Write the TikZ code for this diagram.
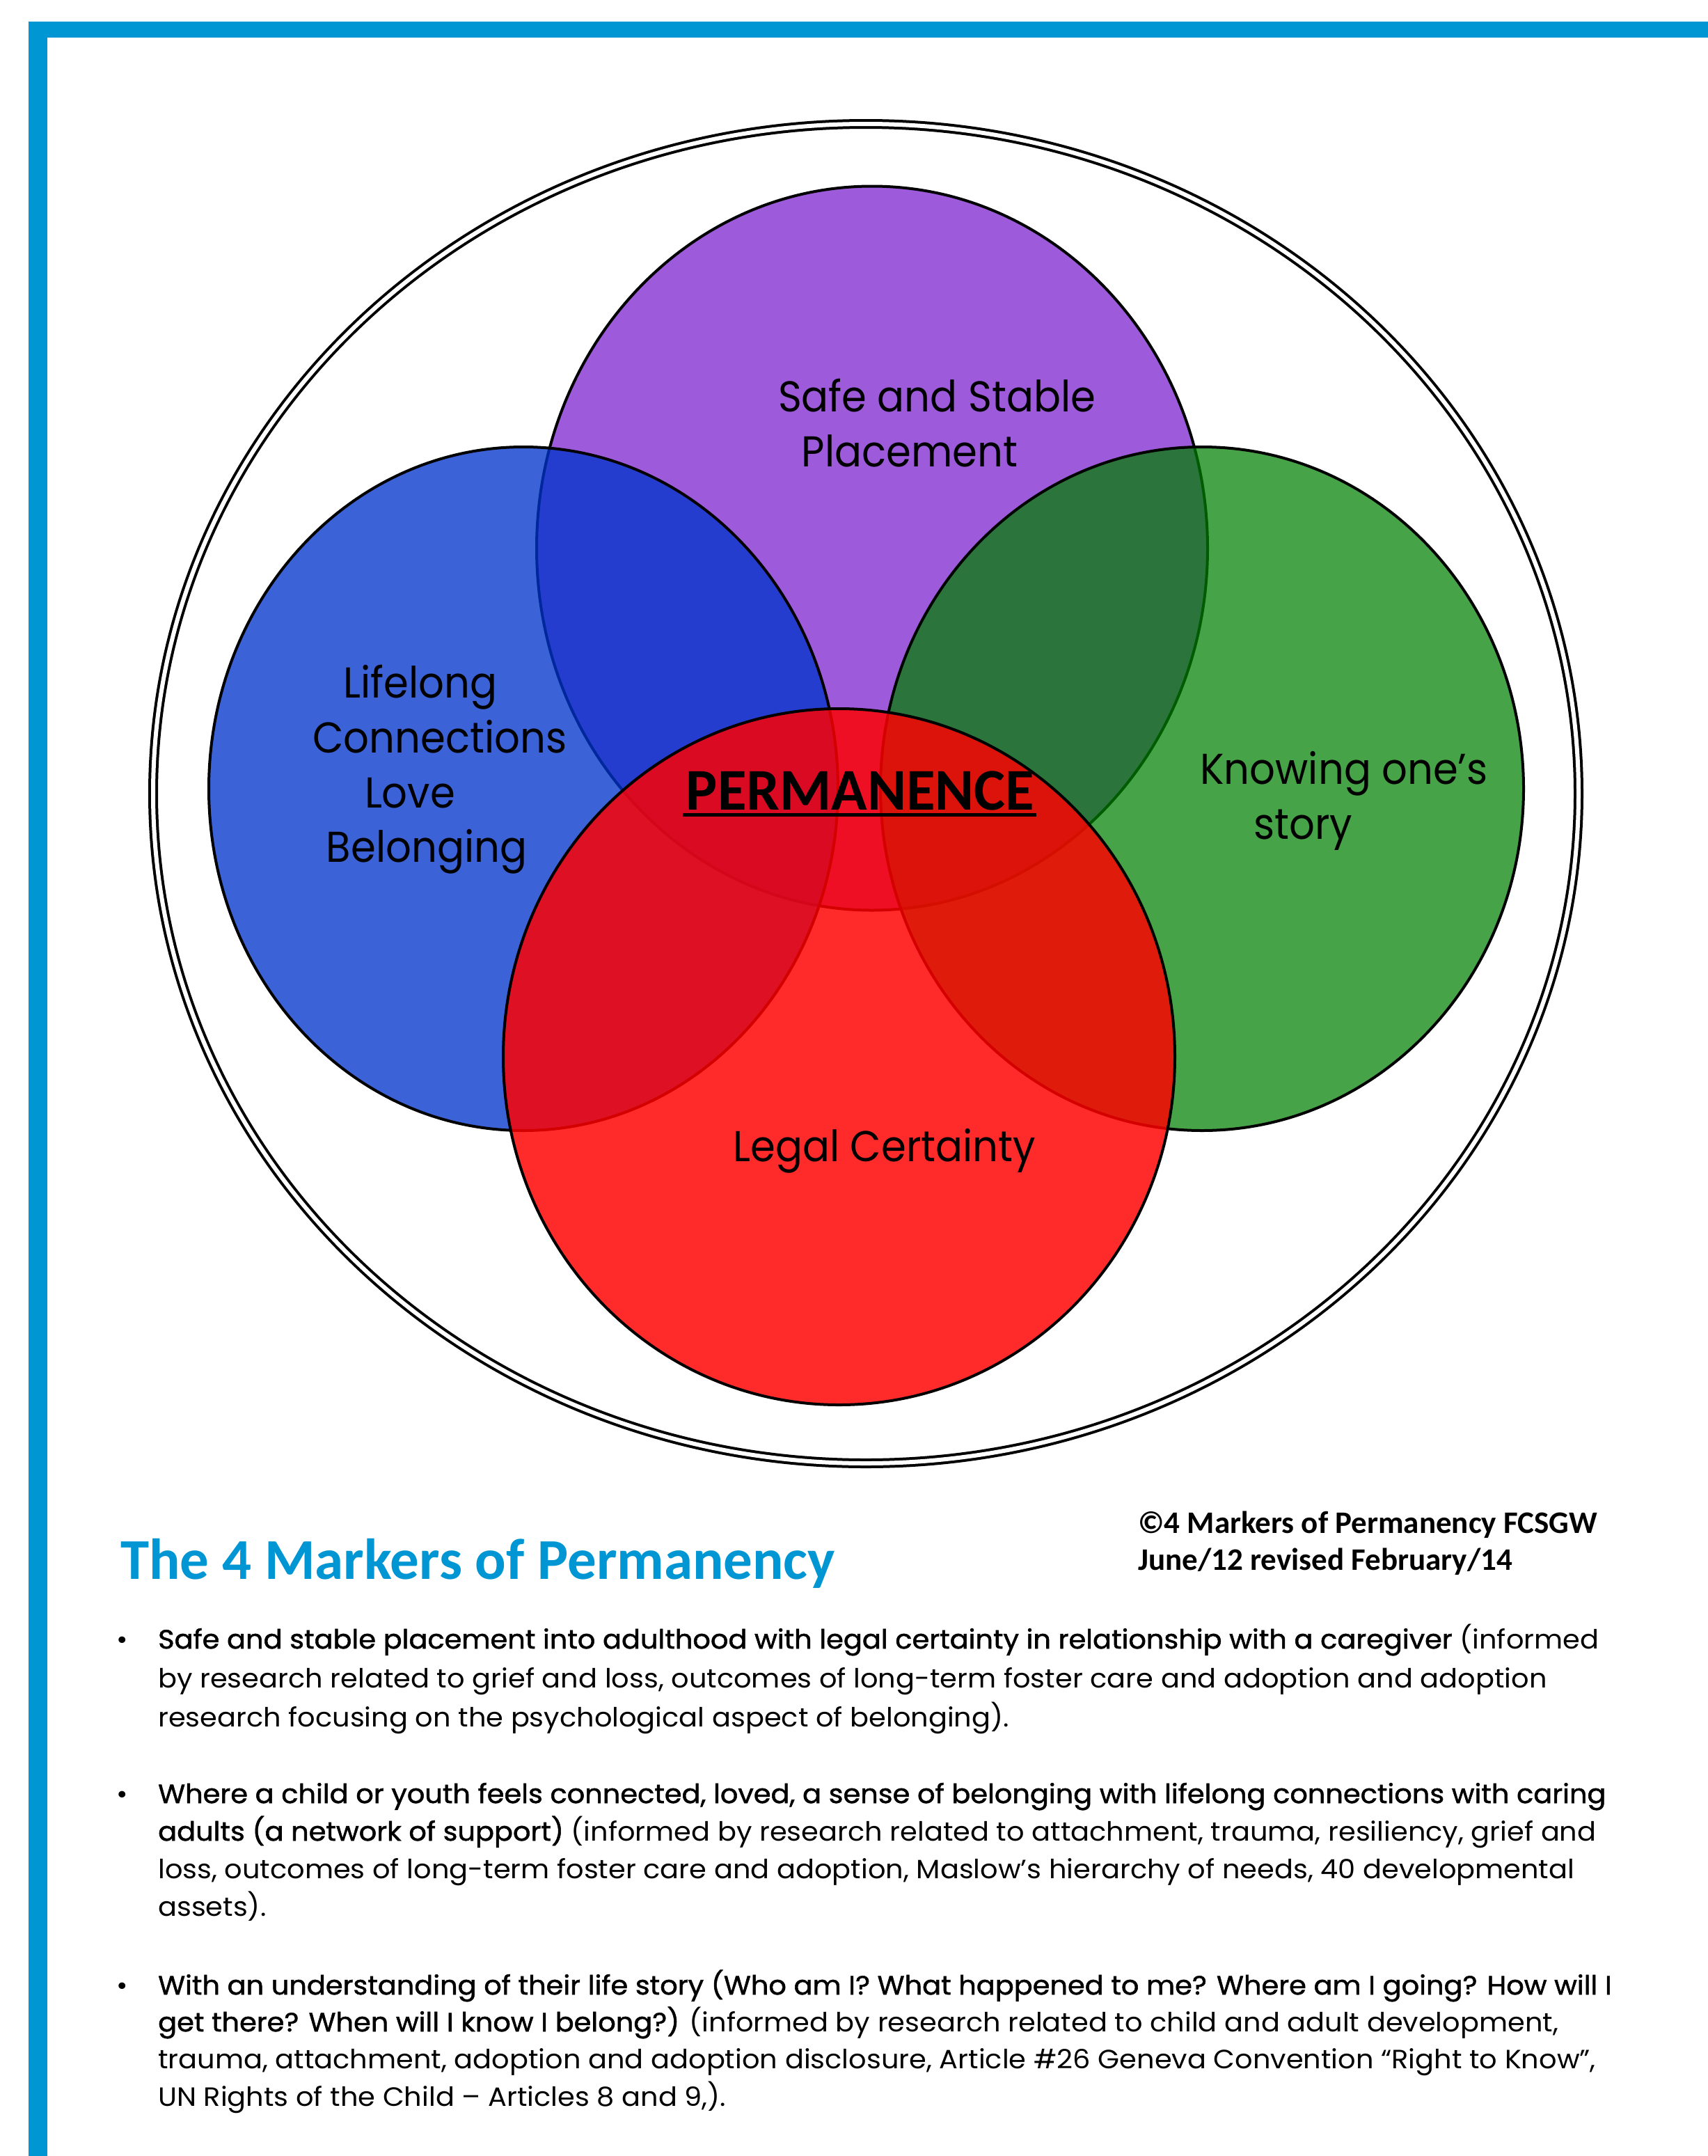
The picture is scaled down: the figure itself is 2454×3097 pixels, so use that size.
\documentclass[tikz,border=0pt]{standalone}
\usepackage{fontspec}
\setmainfont{Poppins}
\newfontfamily\calib{Carlito}
\newfontfamily\bodyf{Poppins}[FakeStretch=1.05]
\newfontfamily\semib{Poppins}[FakeStretch=1.05,FakeBold=1.4]
\newfontfamily\lblf{Poppins}[FakeStretch=0.93]
\definecolor{frameblue}{RGB}{0,149,211}
\definecolor{cpurple}{RGB}{157,91,219}
\definecolor{cblue}{RGB}{0,52,204}
\definecolor{cgreen}{RGB}{0,128,0}
\definecolor{cred}{RGB}{255,0,0}
\begin{document}
\begin{tikzpicture}[x=1pt,y=-1pt,
  venn/.style={draw=black, line width=4pt},
  lbl/.style={font=\lblf\fontsize{62}{74}\selectfont, inner sep=0pt, anchor=base},
  body/.style={font=\bodyf\fontsize{38}{44}\selectfont, inner sep=0pt, anchor=base west},
  dot/.style={font=\bodyf\fontsize{38}{44}\selectfont, inner sep=0pt, anchor=base}
  ]
\useasboundingbox (0,0) rectangle (2454,3097);
\fill[white] (0,0) rectangle (2454,3097);
% frame
\fill[frameblue] (41,31) rectangle (2454,54);
\fill[frameblue] (41,31) rectangle (68,3097);
% outer double ellipse
\draw[line width=4pt, double=white, double distance=6pt] (1244,1140) ellipse [x radius=1024, y radius=962];
% venn circles
\path[venn, fill=cpurple] (1253,787.5) ellipse [x radius=482, y radius=520];
\path[venn, fill=cblue, fill opacity=0.77] (752,1133) ellipse [x radius=452, y radius=491];
\path[venn, fill=cgreen, fill opacity=0.72] (1727,1133) ellipse [x radius=462, y radius=491];
\path[venn, fill=cred, fill opacity=0.83] (1205.5,1518) ellipse [x radius=482.5, y radius=500];
% labels
\node[lbl] (safe1) at (1346,591) {Safe and Stable};
\node[lbl] (safe2) at (1307,670) {Placement};
\node[lbl] (life1) at (604,1002) {Lifelong};
\node[lbl] (life2) at (632,1081) {Connections};
\node[lbl] (life3) at (589,1160) {Love};
\node[lbl] (life4) at (613,1238) {Belonging};
\node[lbl] (know1) at (1931,1126) {Knowing one’s};
\node[lbl] (know2) at (1872,1205) {story};
\node[lbl] (legal) at (1271,1668) {Legal Certainty};
\node[font=\calib\bfseries\fontsize{85}{100}\selectfont, inner sep=0pt, anchor=base] (perm) at (1236,1163) {PERMANENCE};
\draw[line width=5pt] ([xshift=-5pt,yshift=-7pt]perm.base west) -- ([xshift=3pt,yshift=-7pt]perm.base east);
% title and copyright
\node[font=\calib\bfseries\fontsize{83}{100}\selectfont, text=frameblue, anchor=base west, inner sep=0pt] (title) at (173,2268) {The 4 Markers of Permanency};
\node[font=\calib\bfseries\fontsize{45}{53}\selectfont, anchor=base west, inner sep=0pt] (copy1) at (1635,2202) {©4 Markers of Permanency FCSGW};
\node[font=\calib\bfseries\fontsize{45}{53}\selectfont, anchor=base west, inner sep=0pt] (copy2) at (1635,2255) {June/12 revised February/14};
% bullet 1
\node[dot] (d1) at (176,2368) {•};
\node[body] (b1l1) at (227,2368) {{\semib Safe and stable placement into adulthood with legal certainty in relationship with a caregiver} (informed};
\node[body] (b1l2) at (227,2424) {by research related to grief and loss, outcomes of long-term foster care and adoption and adoption};
\node[body] (b1l3) at (227,2480) {research focusing on the psychological aspect of belonging).};
% bullet 2
\node[dot] (d2) at (176,2590) {•};
\node[body] (b2l1) at (227,2590) {{\semib Where a child or youth feels connected, loved, a sense of belonging with lifelong connections with caring}};
\node[body] (b2l2) at (227,2644) {{\semib adults (a network of support)} (informed by research related to attachment, trauma, resiliency, grief and};
\node[body] (b2l3) at (227,2698) {loss, outcomes of long-term foster care and adoption, Maslow’s hierarchy of needs, 40 developmental};
\node[body] (b2l4) at (227,2752) {assets).};
% bullet 3
\node[dot] (d3) at (176,2865) {•};
\node[body] (b3l1) at (227,2865) {{\semib With an understanding of their life story (Who am I? What happened to me? Where am I going? How will I}};
\node[body] (b3l2) at (227,2918) {{\semib get there? When will I know I belong?)} (informed by research related to child and adult development,};
\node[body] (b3l3) at (227,2971) {trauma, attachment, adoption and adoption disclosure, Article \#26 Geneva Convention “Right to Know”,};
\node[body] (b3l4) at (227,3025) {UN Rights of the Child – Articles 8 and 9,).};
\end{tikzpicture}
\end{document}
